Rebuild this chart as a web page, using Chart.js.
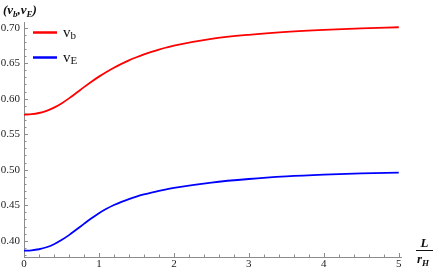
<!DOCTYPE html>
<html>
<head>
<meta charset="utf-8">
<script src="https://cdn.jsdelivr.net/npm/chart.js@4.4.0/dist/chart.umd.min.js"></script>
<style>
html, body { margin: 0; padding: 0; background: #fff; }
</style>
</head>
<body>
<canvas id="myChart" width="436" height="273"></canvas>
<script>
// L / r_H
const xValues = [0, 0.1, 0.2, 0.3, 0.4, 0.5, 0.6, 0.7, 0.8, 0.9, 1.0, 1.1, 1.2, 1.3, 1.4, 1.5, 1.6, 1.7, 1.8, 1.9, 2.0,
    2.5, 3.0, 3.5, 4.0, 4.5, 5.0];
const vb = [0.5775, 0.5781, 0.5798, 0.5828, 0.5873, 0.5933, 0.6004, 0.6082, 0.6162, 0.6239, 0.6310, 0.6376, 0.6436, 0.6490,
    0.6539, 0.6583, 0.6623, 0.6659, 0.6691, 0.6720, 0.6746, 0.6841, 0.6899, 0.6940, 0.6969, 0.6990, 0.7005];
const vE = [0.3860, 0.3865, 0.3880, 0.3908, 0.3951, 0.4009, 0.4079, 0.4157, 0.4237, 0.4315, 0.4388, 0.4450, 0.4503, 0.4548,
    0.4587, 0.4621, 0.4651, 0.4678, 0.4702, 0.4724, 0.4744, 0.4819, 0.4869, 0.4905, 0.4930, 0.4948, 0.4960];
const xTicks = [0, 1, 2, 3, 4, 5];
const yTicks = [0.40, 0.45, 0.50, 0.55, 0.60, 0.65, 0.70];

const serif = '"Liberation Serif", "DejaVu Serif", serif';
const axisGray = '#8c8c8c';

function textWithSub(ctx, x, y, base, sub, font, subFont, drop) {
    ctx.font = font;
    ctx.fillText(base, x, y);
    x += ctx.measureText(base).width;
    ctx.font = subFont;
    ctx.fillText(sub, x, y + drop);
    return x + ctx.measureText(sub).width;
}

// mathematica-ish decorations: inward ticks, legend, axis labels
const decor = {
    id: 'decor',
    afterDraw(chart) {
        const ctx = chart.ctx;
        const xs = chart.scales.x, ys = chart.scales.y;
        const x0 = xs.getPixelForValue(0);
        const yBase = ys.bottom;
        ctx.save();
        ctx.strokeStyle = axisGray;
        ctx.lineWidth = 1;
        ctx.beginPath();
        // x ticks, minor every 0.2
        for (let i = 0; i < xTicks.length; i++) {
            const px = Math.round(xs.getPixelForValue(xTicks[i])) + 0.5;
            ctx.moveTo(px, yBase); ctx.lineTo(px, yBase - 4);
            for (let k = 1; k < 5; k++) {
                const v = xTicks[i] + k * 0.2;
                if (v > xs.max) break;
                const mx = Math.round(xs.getPixelForValue(v)) + 0.5;
                ctx.moveTo(mx, yBase); ctx.lineTo(mx, yBase - 2.5);
            }
        }
        // y ticks, minor every 0.01
        for (let v = 0.38; v < ys.max; v += 0.01) {
            const vv = Math.round(v * 100) / 100;
            if (vv < ys.min) continue;
            const py = Math.round(ys.getPixelForValue(vv)) + 0.5;
            const major = yTicks.some(t => Math.abs(t - vv) < 1e-6);
            ctx.moveTo(x0, py); ctx.lineTo(x0 + (major ? 4 : 2.5), py);
        }
        ctx.stroke();

        // legend
        const leg = [
            { color: 'rgb(255,0,0)', base: 'v', sub: 'b', y: 32.5 },
            { color: 'rgb(0,0,255)', base: 'v', sub: 'E', y: 57.5 }
        ];
        ctx.textBaseline = 'alphabetic';
        ctx.fillStyle = '#111';
        leg.forEach(l => {
            ctx.strokeStyle = l.color;
            ctx.lineWidth = 2.5;
            ctx.beginPath();
            ctx.moveTo(33, l.y); ctx.lineTo(57, l.y);
            ctx.stroke();
            textWithSub(ctx, 63, l.y + 4, l.base, l.sub, '15px ' + serif, '11px ' + serif, 2.5);
        });

        // y axis label (v_b, v_E)
        ctx.fillStyle = '#111';
        const bf = 'bold italic 13px ' + serif, sf = 'bold italic 9px ' + serif;
        let tx = 3;
        ctx.font = bf; ctx.fillText('(', tx, 14); tx += ctx.measureText('(').width;
        tx = textWithSub(ctx, tx, 14, 'v', 'b', bf, sf, 3);
        ctx.font = bf; ctx.fillText(',', tx, 14); tx += ctx.measureText(',').width;
        tx = textWithSub(ctx, tx, 14, 'v', 'E', bf, sf, 3);
        ctx.font = bf; ctx.fillText(')', tx, 14);

        // x axis label L / r_H
        ctx.font = bf;
        ctx.textAlign = 'center';
        ctx.fillText('L', 424.5, 247);
        ctx.strokeStyle = '#111';
        ctx.lineWidth = 1;
        ctx.beginPath();
        ctx.moveTo(416, 250.5); ctx.lineTo(433, 250.5);
        ctx.stroke();
        ctx.textAlign = 'left';
        textWithSub(ctx, 417, 263, 'r', 'H', bf, sf, 3);
        ctx.restore();
    }
};

const ctx = document.getElementById('myChart').getContext('2d');
const myChart = new Chart(ctx, {
    type: 'line',
    data: {
        datasets: [
            {
                label: 'vb',
                borderColor: 'rgb(255,0,0)',
                data: xValues.map((x, i) => ({ x: x, y: vb[i] }))
            },
            {
                label: 'vE',
                borderColor: 'rgb(0,0,255)',
                data: xValues.map((x, i) => ({ x: x, y: vE[i] }))
            }
        ]
    },
    options: {
        responsive: false,
        animation: false,
        layout: { padding: { top: 22, right: 35, left: 0, bottom: 0 } },
        elements: {
            point: { radius: 0 },
            line: { borderWidth: 1.8, cubicInterpolationMode: 'monotone', fill: false }
        },
        plugins: {
            legend: { display: false },
            tooltip: { enabled: false }
        },
        scales: {
            x: {
                type: 'linear',
                min: 0,
                max: 5.03,
                afterBuildTicks: s => { s.ticks = xTicks.map(v => ({ value: v })); },
                afterFit: s => { s.height = 16; },
                grid: { display: false, drawTicks: false },
                border: { display: true, color: axisGray, width: 1 },
                ticks: {
                    autoSkip: false,
                    maxRotation: 0,
                    padding: 1,
                    color: '#222',
                    font: { family: serif, size: 11 },
                    callback: v => String(v)
                }
            },
            y: {
                min: 0.3771,
                max: 0.7079,
                afterBuildTicks: s => { s.ticks = yTicks.map(v => ({ value: v })); },
                afterFit: s => { s.width = 24; },
                grid: { display: false, drawTicks: false },
                border: { display: true, color: axisGray, width: 1 },
                ticks: {
                    padding: 4,
                    color: '#222',
                    font: { family: serif, size: 11 },
                    callback: v => v.toFixed(2)
                }
            }
        }
    },
    plugins: [decor]
});
</script>
</body>
</html>
